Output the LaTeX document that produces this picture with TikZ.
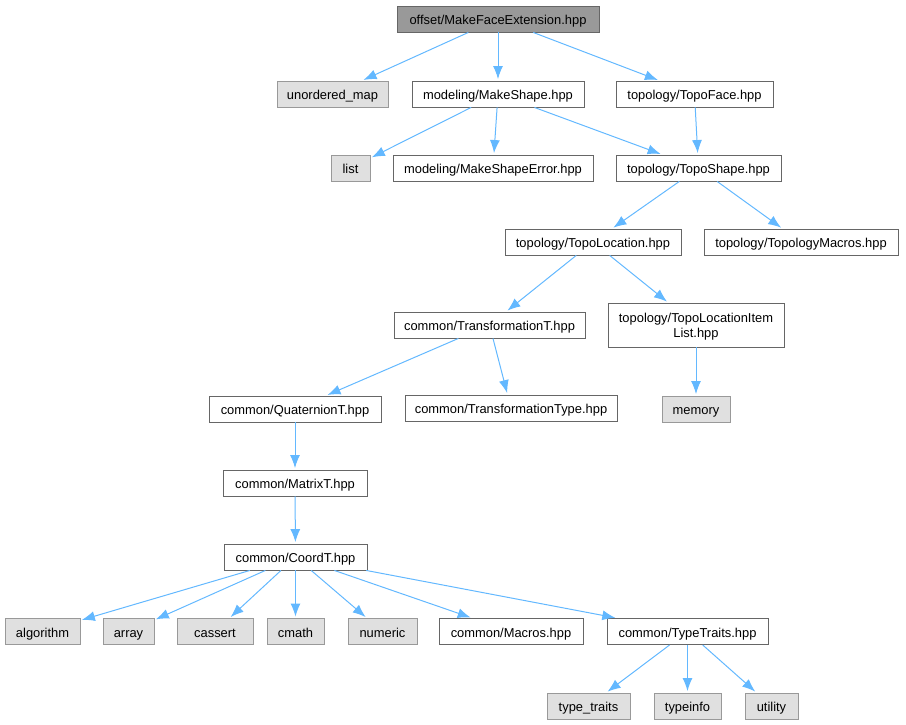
\documentclass[tikz,border=0pt]{standalone}
\usepackage{fontspec}
\setmainfont{Liberation Sans}
\usetikzlibrary{arrows.meta}
\definecolor{edgeblue}{HTML}{63B8FF}
\definecolor{boxline}{HTML}{666666}
\definecolor{extline}{HTML}{999999}
\definecolor{extfill}{HTML}{E0E0E0}
\definecolor{rootfill}{HTML}{999999}
\tikzset{
  file/.style = {draw=boxline, fill=white, line width=0.9pt, inner xsep=2pt,
    inner ysep=1pt, text height=11.5pt, text depth=0.5pt,
    minimum height=26pt, font=\fontsize{12.9}{15}\selectfont},
  sys/.style = {file, draw=extline, fill=extfill},
  rootfile/.style = {file, fill=rootfill},
  wd/.style = {minimum width=#1pt},
  dep/.style = {->, edgeblue, line width=1pt, shorten >=1.5pt}
}
\tikzset{>={Latex[length=13pt,width=10pt]}}

\begin{document}
\begin{tikzpicture}[x=1pt,y=-1pt]
    \useasboundingbox (0,0) rectangle (906,725);
    \node[rootfile,wd=202] (root) at (498,19) {offset/MakeFaceExtension.hpp};
    \node[sys,wd=111] (umap) at (332.5,94) {unordered\_map};
    \node[file,wd=172] (mkshape) at (498,94) {modeling/MakeShape.hpp};
    \node[file,wd=157] (topoface) at (694.5,94) {topology/TopoFace.hpp};
    \node[sys,wd=39] (list) at (350.5,168) {list};
    \node[file,wd=200] (mkerr) at (493,168) {modeling/MakeShapeError.hpp};
    \node[file,wd=165] (toposhape) at (698.5,168) {topology/TopoShape.hpp};
    \node[file,wd=176] (topoloc) at (593,242) {topology/TopoLocation.hpp};
    \node[file,wd=194] (topomacros) at (801,242) {topology/TopologyMacros.hpp};
    \node[file,wd=191] (transT) at (489.5,325) {common/TransformationT.hpp};
    \node[file,wd=176,minimum height=44pt,align=center,text height=26pt,
        text depth=1pt] (itemlist) at (696,325) {topology/TopoLocationItem\\List.hpp};
    \node[file,wd=172] (quat) at (295,409) {common/QuaternionT.hpp};
    \node[file,wd=212] (transtype) at (511,408) {common/TransformationType.hpp};
    \node[sys,wd=68] (memory) at (696,409) {memory};
    \node[file,wd=144] (matrix) at (295,483) {common/MatrixT.hpp};
    \node[file,wd=143] (coord) at (295.5,557) {common/CoordT.hpp};
    \node[sys,wd=75] (algorithm) at (42.5,631.5) {algorithm};
    \node[sys,wd=51] (array) at (128.5,631.5) {array};
    \node[sys,wd=76] (cassert) at (215,631.5) {cassert};
    \node[sys,wd=57] (cmath) at (295.5,631.5) {cmath};
    \node[sys,wd=69] (numeric) at (382.5,631.5) {numeric};
    \node[file,wd=144] (macros) at (511,631.5) {common/Macros.hpp};
    \node[file,wd=161] (typetraits) at (687.5,631.5) {common/TypeTraits.hpp};
    \node[sys,wd=83] (typetr) at (588.5,706) {type\_traits};
    \node[sys,wd=67] (typeinfo) at (687.5,706) {typeinfo};
    \node[sys,wd=53] (utility) at (771.5,706) {utility};
    % include edges
    \foreach \a/\b in {root/umap, root/mkshape, root/topoface,
        mkshape/list, mkshape/mkerr, mkshape/toposhape, topoface/toposhape,
        toposhape/topoloc, toposhape/topomacros,
        topoloc/transT, topoloc/itemlist,
        transT/quat, transT/transtype, itemlist/memory,
        quat/matrix, matrix/coord,
        coord/algorithm, coord/array, coord/cassert, coord/cmath,
        coord/numeric, coord/macros, coord/typetraits,
        typetraits/typetr, typetraits/typeinfo, typetraits/utility}
      \draw[dep] (\a) -- (\b);
\end{tikzpicture}
\end{document}
